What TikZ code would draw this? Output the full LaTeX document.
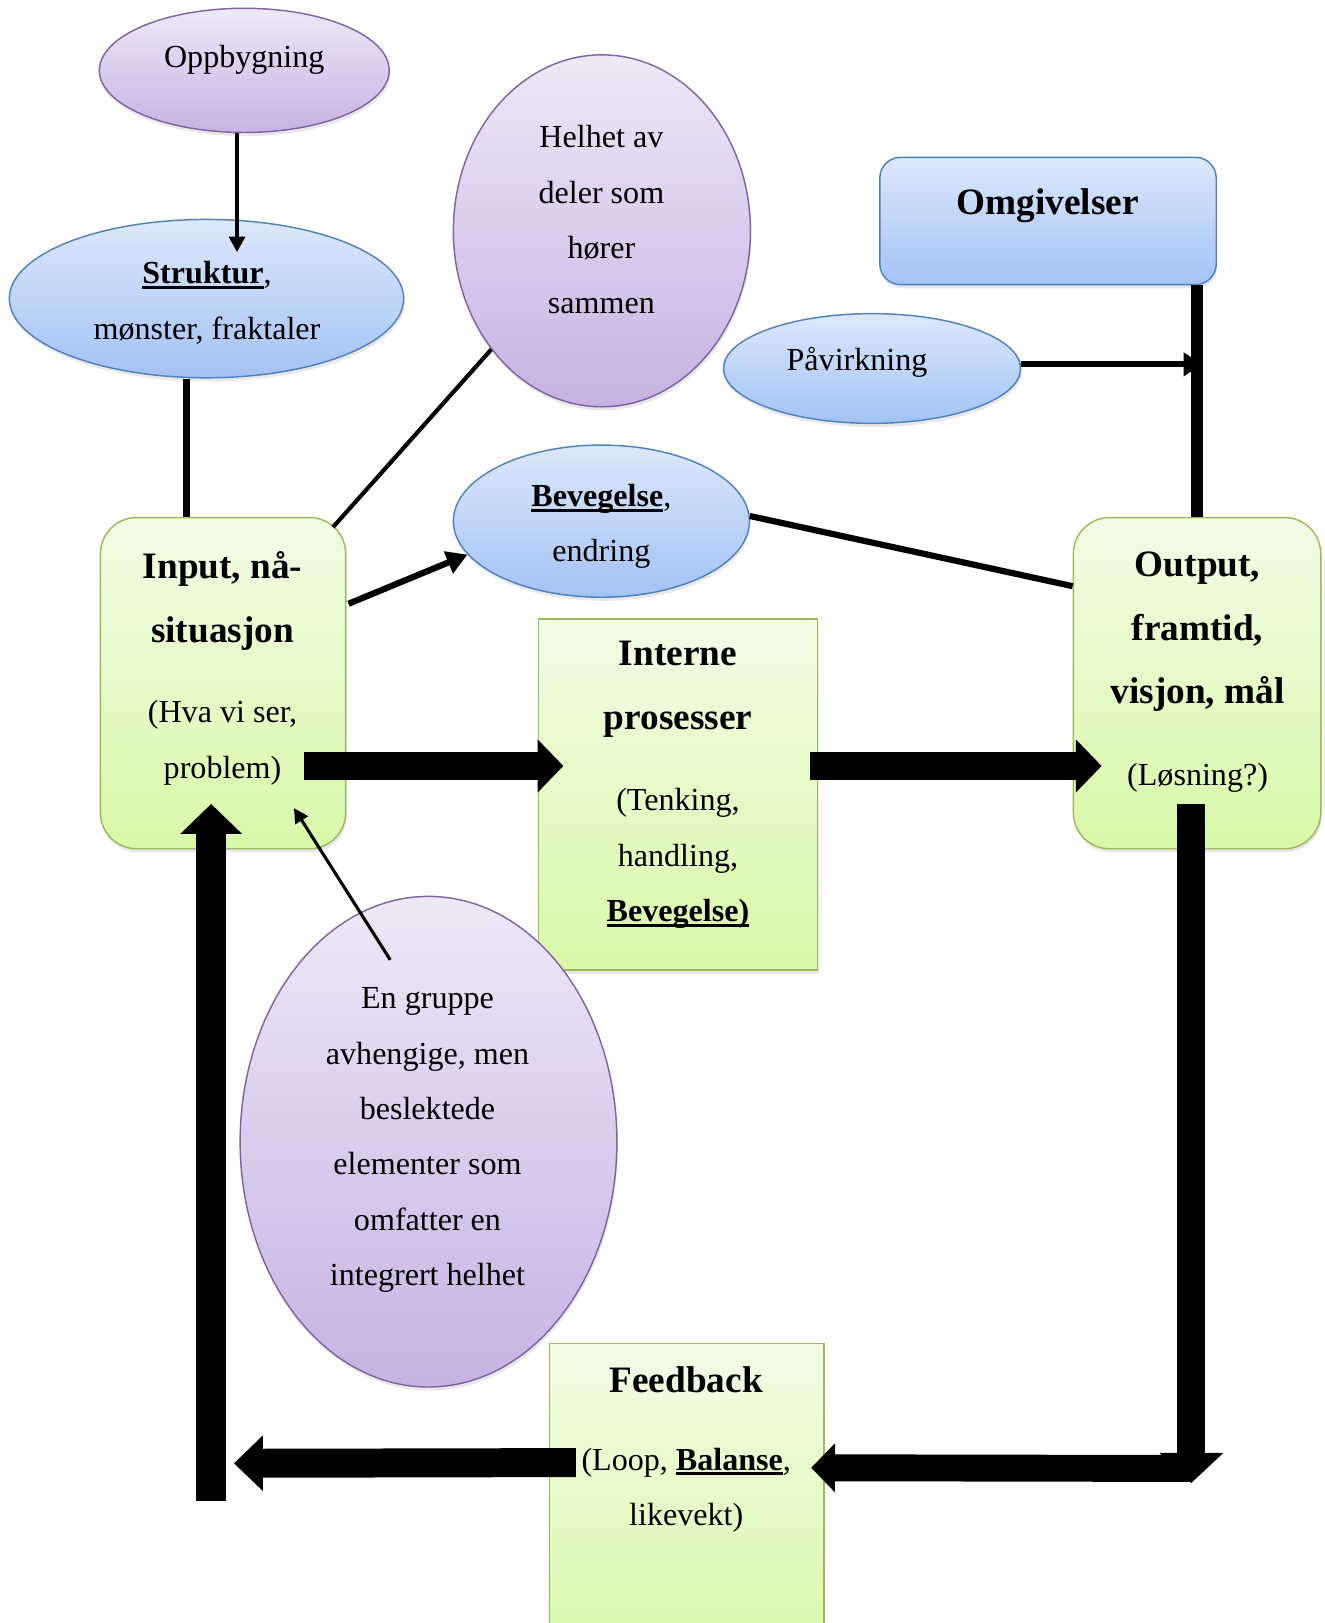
\documentclass[tikz,border=0pt]{standalone}
\usepackage{fontspec}
\setmainfont{Liberation Serif}
\usetikzlibrary{shapes.geometric,arrows.meta,shadows,calc}

\definecolor{purpTop}{HTML}{EEE8F7}
\definecolor{purpBot}{HTML}{C7B2E3}
\definecolor{purpLine}{HTML}{8064A2}
\definecolor{blueTop}{HTML}{DCE8FC}
\definecolor{blueBot}{HTML}{A3C2F5}
\definecolor{blueLine}{HTML}{4F81BD}
\definecolor{grnTop}{HTML}{F2FCE6}
\definecolor{grnBot}{HTML}{D8F9A8}
\definecolor{grnLine}{HTML}{9BBB59}

% bold word with a Word-like underline
\newcommand\ulbold[1]{\setbox0\hbox{\bfseries #1}\rlap{\rule[-0.17em]{\wd0}{0.1em}}\box0}
\newcommand\bodyfont{\fontsize{31}{53.5}\selectfont}
\newcommand\headfont{\fontsize{36}{61.5}\selectfont\bfseries}

\tikzset{
  softshadow/.style={drop shadow={opacity=0.18,shadow xshift=1pt,shadow yshift=-3.5pt}},
  purpoval/.style={ellipse,draw=purpLine,line width=1.4pt,top color=purpTop,bottom color=purpBot,inner sep=0pt,softshadow},
  blueoval/.style={ellipse,draw=blueLine,line width=1.4pt,top color=blueTop,bottom color=blueBot,inner sep=0pt,softshadow},
  bluebox/.style={rectangle,draw=blueLine,line width=1.4pt,top color=blueTop,bottom color=blueBot,inner sep=0pt,softshadow},
  greenbox/.style={rectangle,draw=grnLine,line width=1.4pt,top color=grnTop,bottom color=grnBot,inner sep=0pt,softshadow},
  txt/.style={align=center,inner sep=0pt,font=\bodyfont},
  head/.style={align=center,inner sep=0pt,font=\headfont},
  thinlink/.style={line width=4pt,black},
  block/.style={line width=27pt,black},
}

\begin{document}
\begin{tikzpicture}[x=1pt,y=-1pt]
\useasboundingbox (0,0) rectangle (1280,1568);
\fill[white] (0,0) rectangle (1280,1568);
\clip (0,0) rectangle (1280,1568);

% ---- shapes ----
\node[purpoval,minimum width=280pt,minimum height=120pt] (opp) at (236,68) {};
\node[blueoval,minimum width=381pt,minimum height=153pt] (str) at (199.5,288.5) {};
\node[purpoval,minimum width=287pt,minimum height=340pt] (hel) at (581.5,223) {};
\node[bluebox,rounded corners=20pt,minimum width=325pt,minimum height=123pt] (omg) at (1012.5,213.5) {};
\node[blueoval,minimum width=287pt,minimum height=106pt] (pav) at (842.5,356) {};
\node[blueoval,minimum width=286pt,minimum height=147pt] (bev) at (581,503.5) {};
\node[greenbox,rounded corners=35pt,minimum width=237pt,minimum height=320pt] (inp) at (215.5,660) {};
\node[greenbox,minimum width=270pt,minimum height=339pt] (int) at (655,767.5) {};
\node[greenbox,rounded corners=35pt,minimum width=239pt,minimum height=320pt] (out) at (1156.5,660) {};
\node[greenbox,minimum width=265pt,minimum height=310pt] (fb) at (663.5,1453) {};
\node[purpoval,minimum width=364pt,minimum height=474pt] (grp) at (414,1103) {};

% ---- texts ----
\node[txt] (oppT) at (236,58) {Oppbygning};
\node[txt] (strT) at (200,292.5) {\ulbold{Struktur},\\mønster, fraktaler};
\node[txt] (helT) at (581,212.5) {Helhet av\\deler som\\hører\\sammen};
\node[head] (omgT) at (1012,199) {Omgivelser};
\node[txt] (pavT) at (828,350) {Påvirkning};
\node[txt] (bevT) at (581,508.5) {\ulbold{Bevegelse},\\endring};
\node[head] (inpH) at (215,580.5) {Input, nå-\\situasjon};
\node[txt] (inpB) at (215,717.5) {(Hva vi ser,\\problem)};
\node[head] (intH) at (655,666) {Interne\\prosesser};
\node[txt] (intB) at (655,829.5) {(Tenking,\\handling,\\\ulbold{Bevegelse)}};
\node[head] (outH) at (1157,610.5) {Output,\\framtid,\\visjon, mål};
\node[txt] (outB) at (1157,751) {(Løsning?)};
\node[head] (fbH) at (663,1333) {Feedback};
\node[txt] (fbB) at (663,1439.5) {(Loop, \ulbold{Balanse},\\likevekt)};
\node[txt] (grpT) at (413,1101.5) {En gruppe\\avhengige, men\\beslektede\\elementer som\\omfatter en\\integrert helhet};

% ---- thin connectors ----
\draw[thinlink,-{Triangle[length=15pt,width=15pt]}] ($(opp.south)+(-7,0)$) -- ($(opp.south)+(-7,115)$);
\coordinate (strFoot) at ($(inp.north)+(-35.5,0)$);
\draw[line width=7pt] (strFoot |- str.south) -- (strFoot);
\draw[thinlink] (hel.227) -- ($(inp.north east)+(-13,10)$);
\draw[line width=11pt] (out.north |- omg.south) -- (out.north);
\draw[line width=6pt,-{Triangle[length=18pt,width=22pt]}] ($(pav.east)+(0,-4)$) -- ($(pav.east -| out.north)+(5,-4)$);
\draw[line width=6pt,-{Triangle[length=20pt,width=22pt]}] ($(inp.north east)+(2,84)$) -- (bev.194);
\draw[line width=6pt] (bev.2) -- ($(out.north west)+(0,67)$);
\draw[line width=3pt,-{Triangle[length=14pt,width=14pt]}] ($(grp.north)+(-37,62)$) -- ($(inp.south)+(68.5,-40)$);

% ---- thick block arrows (the loop) ----
\draw[block,-{Triangle[length=25pt,width=50pt]}] ($(inp.east)+(-41,80)$) -- ($(int.west)+(25,-27.5)$);
\draw[block,-{Triangle[length=25pt,width=50pt]}] ($(int.east)+(-8,-27.5)$) -- ($(out.west)+(28,80)$);
\coordinate (loopCorner) at ($(out.south)+(-5.5,598)$);
\draw[block,-{Triangle[length=29pt,width=60pt]}] ($(out.south)+(-5.5,-44)$) -- ($(loopCorner)+(0,14)$);
\draw[block,line width=26pt,-{Triangle[length=23pt,width=46pt]}] (loopCorner) -- ($(fb.east)+(-13,-35)$);
\coordinate (backCorner) at ($(inp.south)+(-11.5,629)$);
\draw[block,line width=28pt,-{Triangle[length=28pt,width=52pt]}] ($(fb.west)+(26,-40)$) -- ($(backCorner)+(22,-36)$);
\draw[block,line width=29pt,-{Triangle[length=29pt,width=58pt]}] (backCorner) -- ($(inp.south)+(-11.5,-44)$);
\end{tikzpicture}
\end{document}
